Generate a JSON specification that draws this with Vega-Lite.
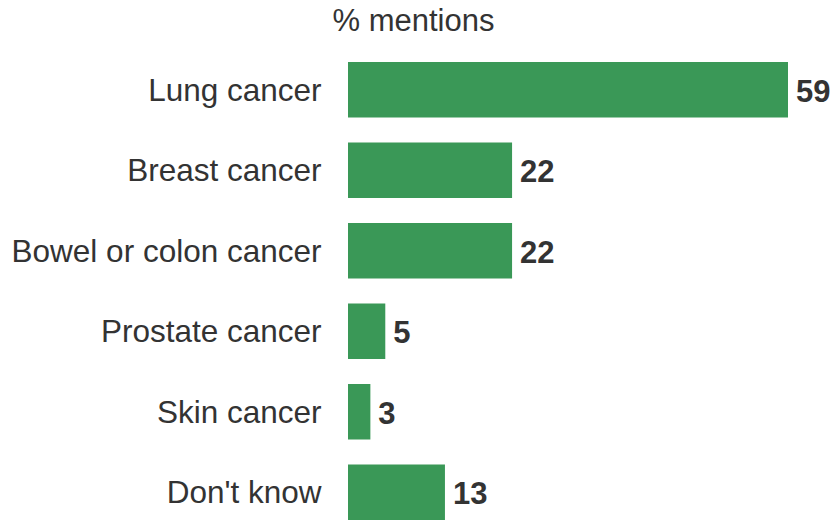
{
  "$schema": "https://vega.github.io/schema/vega-lite/v6.json",
  "autosize": "none",
  "width": 440,
  "height": 484,
  "padding": {"left": 348, "top": 49, "right": 45, "bottom": 0},
  "background": "white",
  "config": {
    "view": {"stroke": null},
    "font": "Liberation Sans",
    "axis": {"labelFont": "Liberation Sans", "titleFont": "Liberation Sans"}
  },
  "data": {
    "values": [
      {"label": "Lung cancer", "value": 59},
      {"label": "Breast cancer", "value": 22},
      {"label": "Bowel or colon cancer", "value": 22},
      {"label": "Prostate cancer", "value": 5},
      {"label": "Skin cancer", "value": 3},
      {"label": "Don't know", "value": 13}
    ]
  },
  "encoding": {
    "y": {
      "field": "label",
      "type": "nominal",
      "sort": null,
      "scale": {"paddingInner": 0.31, "paddingOuter": 0.16},
      "axis": {
        "title": null,
        "ticks": false,
        "domain": false,
        "labelPadding": 27,
        "labelFontSize": 31.5,
        "labelColor": "#333333",
        "labelLimit": 400,
        "labelOffset": 2
      }
    },
    "x": {
      "field": "value",
      "type": "quantitative",
      "scale": {"domain": [0, 59], "nice": false},
      "axis": {
        "orient": "top",
        "title": "% mentions",
        "labels": false,
        "ticks": false,
        "domain": false,
        "grid": false,
        "titleFontSize": 31,
        "titleFontWeight": "normal",
        "titleColor": "#333333",
        "titleX": 65,
        "titleY": -19,
        "titleAnchor": "middle",
        "titleBaseline": "alphabetic"
      }
    }
  },
  "layer": [
    {"mark": {"type": "bar", "color": "#3a9857"}},
    {
      "mark": {
        "type": "text",
        "align": "left",
        "baseline": "middle",
        "dx": 8,
        "dy": 3,
        "fontSize": 31,
        "fontWeight": "bold",
        "color": "#333333"
      },
      "encoding": {"text": {"field": "value", "type": "quantitative"}}
    }
  ]
}
